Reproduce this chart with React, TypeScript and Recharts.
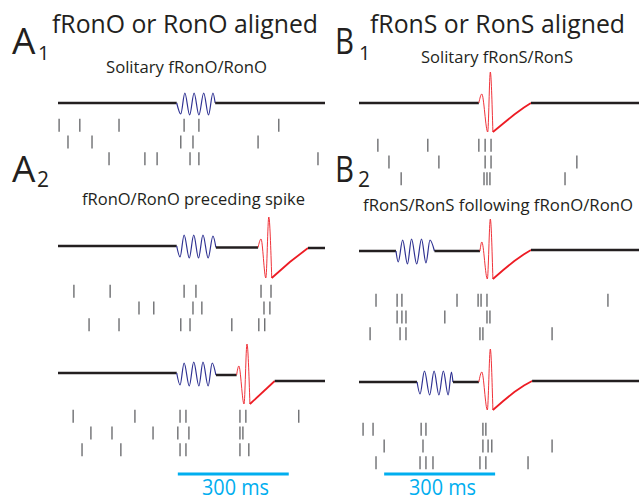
import React from 'react';
import { LineChart, Line, XAxis, YAxis, ScatterChart, Scatter } from 'recharts';

// ---------- colours ----------
const BLACK = '#231F20';
const BLUE = '#2E3192';
const RED = '#ED1C24';
const GRAY = '#6D6E71';
const CYAN = '#00AEEF';

// time spans (ms) of the two columns
const T_LEFT = 722;
const T_RIGHT = 757;

// ---------- A1: solitary fRonO/RonO  [t (ms), v] ----------
const a1Pre = [[0, 0], [321, 0]];
const a1Osc = [[321, 0], [332, -11], [343, 10], [356, -12], [368, 10], [381, -12], [394, 10], [407, -12], [419, 10], [425, 0]];
const a1Post = [[425, 0], [722, 0]];
const a1Rows = [
  [3, 59, 165, 341, 381, 597],
  [27, 92, 332, 365, 541],
  [138, 235, 268, 357, 381, 703],
];

// ---------- A2 (1): fRonO/RonO preceding spike ----------
const a2aPre = [[0, 0], [321, 0]];
const a2aOsc = [[321, 0], [330, -11], [341, 11], [355, -12], [367, 11], [380, -12], [392, 11], [406, -12], [419, 10], [427, -1.5]];
const a2aMid = [[427, -1.5], [541, -1.5]];
const a2aSpike = [[541, -1.5], [549, 7], [562, -32], [570, 29], [578, -32]];
const a2aRamp = [[578, -32], [627, -16], [676, -2]];
const a2aPost = [[676, -2], [722, -2]];
const a2aRows = [
  [43, 141, 341, 373, 549, 576],
  [219, 259, 365, 389, 557, 573],
  [84, 165, 332, 357, 470, 543, 559],
];

// ---------- A2 (2) ----------
const a2bPre = [[0, 0], [321, 0]];
const a2bOsc = [[321, 0], [330, -12], [341, 10], [355, -13], [367, 11], [381, -13], [392, 11], [406, -13], [417, 10], [427, -2]];
const a2bMid = [[427, -2], [483, -2]];
const a2bSpike = [[483, -2], [489, 7], [503, -31], [511, 29], [519, -31]];
const a2bRamp = [[519, -31], [586, -8]];
const a2bPost = [[586, -8], [722, -8]];
const a2bRows = [
  [41, 208, 330, 346, 492, 508, 651],
  [89, 146, 257, 324, 354, 492, 500],
  [65, 170, 330, 346, 492, 516],
];

// ---------- B1: solitary fRonS/RonS ----------
const b1Pre = [[0, 0], [324, 0]];
const b1Spike = [[324, 0], [332, 9], [348, -29], [355, 31], [362, -29]];
const b1Ramp = [[362, -29], [390, -20.5], [420, -11.5], [445, -4.8], [465, 0]];
const b1Post = [[465, 0], [757, 0]];
const b1Rows = [
  [51, 186, 324, 341, 357],
  [81, 216, 341, 357, 589],
  [114, 338, 346, 354, 557],
];

// ---------- B2 (1): fRonS/RonS following fRonO/RonO ----------
const b2aPre = [[0, 0], [100, 0]];
const b2aOsc = [[100, 0], [106, -11], [118, 11], [131, -13], [142, 12], [156, -13], [169, 12], [181, -12], [192, 11], [204, 0]];
const b2aMid = [[204, 0], [327, 0]];
const b2aSpike = [[327, 0], [332, 9], [347, -28], [355, 32], [362, -28]];
const b2aRamp = [[362, -28], [390, -19], [420, -10], [445, -3.5], [465, 1]];
const b2aPost = [[465, 1], [757, 1]];
const b2aRows = [
  [46, 103, 116, 265, 322, 330, 346, 673],
  [103, 116, 127, 232, 346, 354],
  [30, 111, 127, 327, 335, 522],
];

// ---------- B2 (2) ----------
const b2bPre = [[0, 0], [157, 0]];
const b2bOsc = [[157, 0], [165, -12], [177, 11], [191, -13], [203, 11], [216, -13], [228, 11], [241, -13], [250, 10], [254, 0]];
const b2bMid = [[254, 0], [324, 0]];
const b2bSpike = [[324, 0], [332, 10], [347, -28], [355, 33], [362, -28]];
const b2bRamp = [[362, -28], [390, -19], [420, -10], [446, -3.5], [468, 1]];
const b2bPost = [[468, 1], [757, 1]];
const b2bRows = [
  [11, 38, 168, 181, 335, 343],
  [68, 173, 335, 349, 359, 522],
  [46, 165, 181, 200, 327, 343, 457],
];

// ---------- scale bars (ms) ----------
const scaleLeft = [[324, 0], [624, 0]];
const scaleRight = [[68, 0], [368, 0]];
const scaleLabel = '300 ms';

// ---------- helpers ----------
type Seg = { data: number[][]; color: string; w: number; curve?: 'monotone' | 'linear' };
const toPts = (a: number[][]) => a.map(([t, v]) => ({ t, v }));

const M = { top: 0, right: 0, bottom: 0, left: 0 };
const HALF = 45;

function Trace({ left, base, width, T, segs }: { left: number; base: number; width: number; T: number; segs: Seg[] }) {
  return (
    <div style={{ position: 'absolute', left, top: base - HALF }}>
      <LineChart width={width} height={HALF * 2} margin={M}>
        <XAxis type="number" dataKey="t" domain={[0, T]} hide allowDataOverflow />
        <YAxis type="number" domain={[-HALF, HALF]} hide allowDataOverflow />
        {segs.map((s, i) => (
          <Line
            key={i}
            data={toPts(s.data)}
            dataKey="v"
            type={s.curve || 'monotone'}
            stroke={s.color}
            strokeWidth={s.w}
            dot={false}
            activeDot={false}
            isAnimationActive={false}
          />
        ))}
      </LineChart>
    </div>
  );
}

const ROW_H = 50;
function Raster({ left, rowTop, width, T, rows }: { left: number; rowTop: number; width: number; T: number; rows: number[][] }) {
  const data = rows.flatMap((r, i) => r.map((t) => ({ t, row: i + 1 })));
  const top = rowTop - ROW_H / 6;
  return (
    <div style={{ position: 'absolute', left, top }}>
      <ScatterChart width={width} height={ROW_H} margin={M}>
        <XAxis type="number" dataKey="t" domain={[0, T]} hide allowDataOverflow />
        <YAxis type="number" dataKey="row" domain={[0.5, 3.5]} reversed hide allowDataOverflow />
        <Scatter
          data={data}
          isAnimationActive={false}
          shape={(p: any) => (
            <line x1={p.cx} x2={p.cx} y1={p.cy - 6.5} y2={p.cy + 6.5} stroke={GRAY} strokeWidth={1.4} />
          )}
        />
      </ScatterChart>
    </div>
  );
}

function ScaleBar({ left, y, width, T, data }: { left: number; y: number; width: number; T: number; data: number[][] }) {
  return (
    <div style={{ position: 'absolute', left, top: y - 5 }}>
      <LineChart width={width} height={10} margin={M}>
        <XAxis type="number" dataKey="t" domain={[0, T]} hide allowDataOverflow />
        <YAxis type="number" domain={[-1, 1]} hide />
        <Line data={toPts(data)} dataKey="v" type="linear" stroke={CYAN} strokeWidth={3} dot={false} activeDot={false} isAnimationActive={false} />
      </LineChart>
    </div>
  );
}

const FONT = "'Open Sans', 'Noto Sans', sans-serif";

function oscTrace(pre: number[][], osc: number[][], post: number[][]): Seg[] {
  return [
    { data: pre, color: BLACK, w: 2.5, curve: 'linear' },
    { data: osc, color: BLUE, w: 1.2 },
    { data: post, color: BLACK, w: 2.5, curve: 'linear' },
  ];
}
function spikeSegs(spike: number[][], ramp: number[][], post: number[][]): Seg[] {
  return [
    { data: spike, color: RED, w: 0.9 },
    { data: ramp, color: RED, w: 1.8, curve: 'linear' },
    { data: post, color: BLACK, w: 2.5, curve: 'linear' },
  ];
}

const LX = 58;
const LW = 267;
const RX = 359;
const RW = 280;

export default function App() {
  return (
    <div style={{ position: 'absolute', left: 0, top: 0, width: 639, height: 500, background: '#fff', overflow: 'hidden' }}>
      {/* waveforms */}
      <Trace left={LX} base={103} width={LW} T={T_LEFT} segs={oscTrace(a1Pre, a1Osc, a1Post)} />
      <Trace left={LX} base={246} width={LW} T={T_LEFT} segs={[...oscTrace(a2aPre, a2aOsc, a2aMid), ...spikeSegs(a2aSpike, a2aRamp, a2aPost)]} />
      <Trace left={LX} base={373} width={LW} T={T_LEFT} segs={[...oscTrace(a2bPre, a2bOsc, a2bMid), ...spikeSegs(a2bSpike, a2bRamp, a2bPost)]} />
      <Trace
        left={RX}
        base={103}
        width={RW}
        T={T_RIGHT}
        segs={[{ data: b1Pre, color: BLACK, w: 2.5, curve: 'linear' }, ...spikeSegs(b1Spike, b1Ramp, b1Post)]}
      />
      <Trace left={RX} base={251} width={RW} T={T_RIGHT} segs={[...oscTrace(b2aPre, b2aOsc, b2aMid), ...spikeSegs(b2aSpike, b2aRamp, b2aPost)]} />
      <Trace left={RX} base={382} width={RW} T={T_RIGHT} segs={[...oscTrace(b2bPre, b2bOsc, b2bMid), ...spikeSegs(b2bSpike, b2bRamp, b2bPost)]} />

      {/* rasters */}
      <Raster left={LX} rowTop={125.5} width={LW} T={T_LEFT} rows={a1Rows} />
      <Raster left={LX} rowTop={291.5} width={LW} T={T_LEFT} rows={a2aRows} />
      <Raster left={LX} rowTop={416.5} width={LW} T={T_LEFT} rows={a2bRows} />
      <Raster left={RX} rowTop={145} width={RW} T={T_RIGHT} rows={b1Rows} />
      <Raster left={RX} rowTop={300} width={RW} T={T_RIGHT} rows={b2aRows} />
      <Raster left={RX} rowTop={429.5} width={RW} T={T_RIGHT} rows={b2bRows} />

      {/* scale bars */}
      <ScaleBar left={LX} y={474} width={LW} T={T_LEFT} data={scaleLeft} />
      <ScaleBar left={RX} y={474} width={RW} T={T_RIGHT} data={scaleRight} />

      {/* text */}
      <svg width={639} height={500} style={{ position: 'absolute', left: 0, top: 0, pointerEvents: 'none' }} fontFamily={FONT}>
        <g fill={BLACK}>
          <text x={12} y={53.5} fontSize={37}>A</text>
          <text x={38} y={60} fontSize={20}>1</text>
          <text x={52} y={33} fontSize={26} textLength={266} lengthAdjust="spacingAndGlyphs">fRonO or RonO aligned</text>
          <text x={106} y={72.7} fontSize={17} textLength={161} lengthAdjust="spacingAndGlyphs">Solitary fRonO/RonO</text>

          <text x={12} y={182} fontSize={37}>A</text>
          <text x={37} y={187} fontSize={21}>2</text>
          <text x={82} y={205} fontSize={17} textLength={223} lengthAdjust="spacingAndGlyphs">fRonO/RonO preceding spike</text>

          <text x={335} y={53.5} fontSize={37} textLength={19} lengthAdjust="spacingAndGlyphs">B</text>
          <text x={359} y={60} fontSize={20}>1</text>
          <text x={370} y={33} fontSize={26} textLength={255} lengthAdjust="spacingAndGlyphs">fRonS or RonS aligned</text>
          <text x={421} y={63.3} fontSize={17} textLength={152} lengthAdjust="spacingAndGlyphs">Solitary fRonS/RonS</text>

          <text x={335} y={182} fontSize={37} textLength={19} lengthAdjust="spacingAndGlyphs">B</text>
          <text x={358} y={187} fontSize={21}>2</text>
          <text x={363} y={210.7} fontSize={17} textLength={270} lengthAdjust="spacingAndGlyphs">fRonS/RonS following fRonO/RonO</text>
        </g>
        <g fill={CYAN}>
          <text x={202} y={495} fontSize={22} textLength={67} lengthAdjust="spacingAndGlyphs">{scaleLabel}</text>
          <text x={409} y={495} fontSize={22} textLength={67} lengthAdjust="spacingAndGlyphs">{scaleLabel}</text>
        </g>
      </svg>
    </div>
  );
}
